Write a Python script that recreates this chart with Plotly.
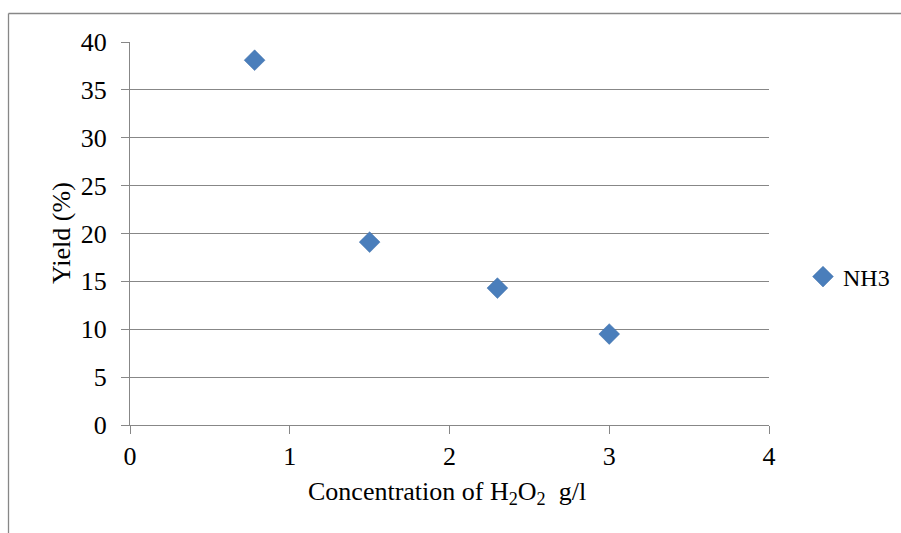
import plotly.graph_objects as go

x_conc = [0.78, 1.5, 2.3, 3.0]
yield_nh3 = [38.1, 19.1, 14.3, 9.5]
series_name = "NH3"
y_ticks = [0, 5, 10, 15, 20, 25, 30, 35, 40]
x_ticks = [0, 1, 2, 3, 4]

W, H = 901, 533
L, R, T, B = 130, 132, 42, 108
pw, ph = W - L - R, H - T - B

def px(xp):
    return (xp - L) / pw

def py(yp):
    return (H - B - yp) / ph

grid = "#878787"
font = "Liberation Serif, Times New Roman, serif"

fig = go.Figure()
fig.add_trace(go.Scatter(
    x=x_conc, y=yield_nh3, mode="markers", name=series_name,
    marker=dict(symbol="diamond", size=16, color="#4a7ebb",
                line=dict(color="#3f6fa8", width=0.5)),
))

fig.update_layout(
    width=W, height=H,
    margin=dict(l=L, r=R, t=T, b=B, autoexpand=False),
    paper_bgcolor="white", plot_bgcolor="white",
    font=dict(family=font, size=26, color="black"),
    showlegend=True,
    legend=dict(x=px(803), y=py(277), xanchor="left", yanchor="middle",
                font=dict(family=font, size=24, color="black"),
                itemwidth=30, tracegroupgap=0, bgcolor="rgba(0,0,0,0)"),
    xaxis=dict(range=[0, 4], tickvals=x_ticks, showgrid=False,
               showline=True, linecolor=grid, linewidth=1,
               ticks="outside", ticklen=8, tickcolor=grid,
               zeroline=False, tickfont=dict(size=26), fixedrange=True),
    yaxis=dict(range=[0, 40], tickvals=y_ticks, showgrid=True,
               gridcolor=grid, gridwidth=1,
               showline=True, linecolor=grid, linewidth=1,
               ticks="outside", ticklen=8, tickcolor=grid,
               ticklabelstandoff=9,
               zeroline=False, tickfont=dict(size=26), fixedrange=True),
)

# chart border (left and top edges visible)
fig.add_shape(type="line", xref="paper", yref="paper",
              x0=px(8.5), x1=px(8.5), y0=py(13.5), y1=py(540),
              line=dict(color=grid, width=1.3))
fig.add_shape(type="line", xref="paper", yref="paper",
              x0=px(8.5), x1=px(910), y0=py(13.5), y1=py(13.5),
              line=dict(color=grid, width=1.3))

fig.add_annotation(text="Concentration of H<sub>2</sub>O<sub>2</sub>  g/l",
                   xref="paper", yref="paper", x=px(447), y=py(493),
                   showarrow=False, font=dict(family=font, size=26),
                   xanchor="center", yanchor="middle")
fig.add_annotation(text="Yield (%)", textangle=-90,
                   xref="paper", yref="paper", x=px(61), y=py(233),
                   showarrow=False, font=dict(family=font, size=26),
                   xanchor="center", yanchor="middle")

fig.write_html("out.html")
